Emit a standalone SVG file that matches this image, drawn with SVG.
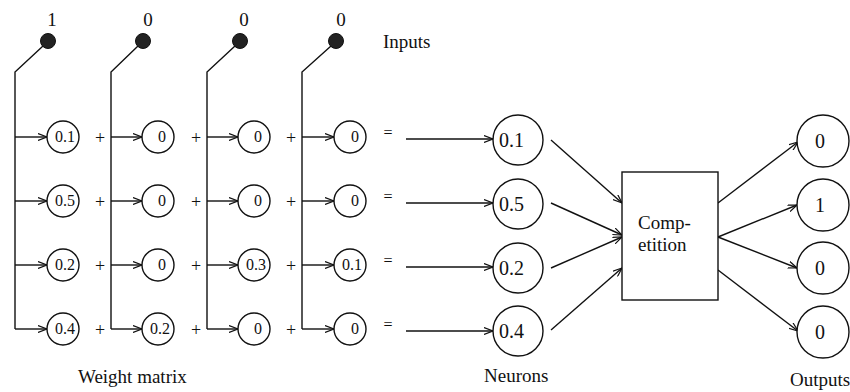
<svg xmlns="http://www.w3.org/2000/svg" width="850" height="392" viewBox="0 0 850 392" font-family="'Liberation Serif', 'Times New Roman', 'DejaVu Serif', serif">
<style>
text{font-family:'Liberation Serif','Times New Roman','DejaVu Serif',serif;fill:#111}
.lbl{font-size:19px}
.w{font-size:16px}
.n{font-size:20px}
.op{font-size:18px}
.eq{font-size:16px}
.c{fill:#fff;stroke:#111;stroke-width:1.4}
.dot{fill:#222;stroke:#111;stroke-width:1}
.ln{fill:none;stroke:#111;stroke-width:1.4}
.ar{fill:none;stroke:#111;stroke-width:1.4;marker-end:url(#ah)}
</style>
<defs>
<marker id="ah" markerUnits="userSpaceOnUse" markerWidth="10" markerHeight="8" refX="9" refY="4" orient="auto">
<path d="M0,0.5 L9,4 L0,7.5" fill="none" stroke="#111" stroke-width="1.2"/>
</marker>
</defs>
<rect width="850" height="392" fill="#fff"/>

<g id="connectors">
<path class="ln" d="M43,46 L15,72 L15,329"/>
<path class="ln" d="M138,46 L111,72 L111,329"/>
<path class="ln" d="M235,46 L207,72 L207,329"/>
<path class="ln" d="M331,46 L302,72 L302,329"/>
<path class="ar" d="M15,137 H47"/><path class="ar" d="M15,201 H47"/><path class="ar" d="M15,265 H47"/><path class="ar" d="M15,329 H47"/>
<path class="ar" d="M111,137 H142"/><path class="ar" d="M111,201 H142"/><path class="ar" d="M111,265 H142"/><path class="ar" d="M111,329 H142"/>
<path class="ar" d="M207,137 H238"/><path class="ar" d="M207,201 H238"/><path class="ar" d="M207,265 H238"/><path class="ar" d="M207,329 H238"/>
<path class="ar" d="M302,137 H334"/><path class="ar" d="M302,201 H334"/><path class="ar" d="M302,265 H334"/><path class="ar" d="M302,329 H334"/>
<path class="ar" d="M406,139 H493"/><path class="ar" d="M406,203 H493"/><path class="ar" d="M406,267 H493"/><path class="ar" d="M406,331 H493"/>
<path class="ar" d="M551,140 L622,203"/>
<path class="ar" d="M551,203 L622,235"/>
<path class="ar" d="M551,268 L622,237"/>
<path class="ar" d="M551,330 L622,268"/>
<path class="ar" d="M718,203 L798,142"/>
<path class="ar" d="M718,237 L797,205"/>
<path class="ar" d="M718,237 L797,268"/>
<path class="ar" d="M718,270 L798,331"/>
</g>

<g id="in1"><text class="lbl" x="52" y="26" text-anchor="middle">1</text><circle class="dot" cx="48" cy="41" r="7.5"/></g>
<g id="in2"><text class="lbl" x="148" y="26" text-anchor="middle">0</text><circle class="dot" cx="143" cy="41" r="7.5"/></g>
<g id="in3"><text class="lbl" x="244" y="26" text-anchor="middle">0</text><circle class="dot" cx="240" cy="41" r="7.5"/></g>
<g id="in4"><text class="lbl" x="341" y="26" text-anchor="middle">0</text><circle class="dot" cx="336" cy="41" r="7.5"/></g>
<g id="inputs-label"><text class="lbl" x="383" y="48">Inputs</text></g>

<g id="w11"><circle class="c" cx="63" cy="137" r="16"/><text class="w" x="65" y="142" text-anchor="middle">0.1</text></g>
<g id="w12"><circle class="c" cx="158" cy="137" r="16"/><text class="w" x="162" y="142" text-anchor="middle">0</text></g>
<g id="w13"><circle class="c" cx="254" cy="137" r="16"/><text class="w" x="258" y="142" text-anchor="middle">0</text></g>
<g id="w14"><circle class="c" cx="350" cy="137" r="16"/><text class="w" x="355" y="142" text-anchor="middle">0</text></g>

<g id="w21"><circle class="c" cx="63" cy="201" r="16"/><text class="w" x="65" y="206" text-anchor="middle">0.5</text></g>
<g id="w22"><circle class="c" cx="158" cy="201" r="16"/><text class="w" x="162" y="206" text-anchor="middle">0</text></g>
<g id="w23"><circle class="c" cx="254" cy="201" r="16"/><text class="w" x="258" y="206" text-anchor="middle">0</text></g>
<g id="w24"><circle class="c" cx="350" cy="201" r="16"/><text class="w" x="355" y="206" text-anchor="middle">0</text></g>

<g id="w31"><circle class="c" cx="63" cy="265" r="16"/><text class="w" x="65" y="270" text-anchor="middle">0.2</text></g>
<g id="w32"><circle class="c" cx="158" cy="265" r="16"/><text class="w" x="162" y="270" text-anchor="middle">0</text></g>
<g id="w33"><circle class="c" cx="254" cy="265" r="16"/><text class="w" x="256" y="270" text-anchor="middle">0.3</text></g>
<g id="w34"><circle class="c" cx="350" cy="265" r="16"/><text class="w" x="352" y="270" text-anchor="middle">0.1</text></g>

<g id="w41"><circle class="c" cx="63" cy="329" r="16"/><text class="w" x="65" y="334" text-anchor="middle">0.4</text></g>
<g id="w42"><circle class="c" cx="158" cy="329" r="16"/><text class="w" x="160" y="334" text-anchor="middle">0.2</text></g>
<g id="w43"><circle class="c" cx="254" cy="329" r="16"/><text class="w" x="258" y="334" text-anchor="middle">0</text></g>
<g id="w44"><circle class="c" cx="350" cy="329" r="16"/><text class="w" x="355" y="334" text-anchor="middle">0</text></g>

<g id="operators">
<text class="op" x="100" y="144" text-anchor="middle">+</text><text class="op" x="196" y="144" text-anchor="middle">+</text><text class="op" x="291" y="144" text-anchor="middle">+</text><text class="eq" x="388" y="138" text-anchor="middle">=</text>
<text class="op" x="100" y="208" text-anchor="middle">+</text><text class="op" x="196" y="208" text-anchor="middle">+</text><text class="op" x="291" y="208" text-anchor="middle">+</text><text class="eq" x="388" y="202" text-anchor="middle">=</text>
<text class="op" x="100" y="272" text-anchor="middle">+</text><text class="op" x="196" y="272" text-anchor="middle">+</text><text class="op" x="291" y="272" text-anchor="middle">+</text><text class="eq" x="388" y="266" text-anchor="middle">=</text>
<text class="op" x="100" y="336" text-anchor="middle">+</text><text class="op" x="196" y="336" text-anchor="middle">+</text><text class="op" x="291" y="336" text-anchor="middle">+</text><text class="eq" x="388" y="330" text-anchor="middle">=</text>
</g>
<g id="weight-label"><text class="lbl" x="78" y="383">Weight matrix</text></g>

<g id="n1"><circle class="c" cx="518" cy="140" r="25"/><text class="n" x="499" y="147">0.1</text></g>
<g id="n2"><circle class="c" cx="518" cy="204" r="25"/><text class="n" x="499" y="211">0.5</text></g>
<g id="n3"><circle class="c" cx="518" cy="268" r="25"/><text class="n" x="499" y="275">0.2</text></g>
<g id="n4"><circle class="c" cx="518" cy="331" r="25"/><text class="n" x="499" y="338">0.4</text></g>
<g id="neurons-label"><text class="lbl" x="484" y="382">Neurons</text></g>

<g id="competition"><rect class="c" x="622" y="172" width="96" height="128"/><text class="lbl" x="638" y="229">Comp-</text><text class="lbl" x="638" y="251">etition</text></g>

<g id="o1"><circle class="c" cx="823" cy="141" r="26"/><text class="n" x="820" y="148" text-anchor="middle">0</text></g>
<g id="o2"><circle class="c" cx="823" cy="205" r="26"/><text class="n" x="820" y="212" text-anchor="middle">1</text></g>
<g id="o3"><circle class="c" cx="823" cy="268" r="26"/><text class="n" x="820" y="275" text-anchor="middle">0</text></g>
<g id="o4"><circle class="c" cx="823" cy="332" r="26"/><text class="n" x="820" y="339" text-anchor="middle">0</text></g>
<g id="outputs-label"><text class="lbl" x="790" y="386">Outputs</text></g>
</svg>
